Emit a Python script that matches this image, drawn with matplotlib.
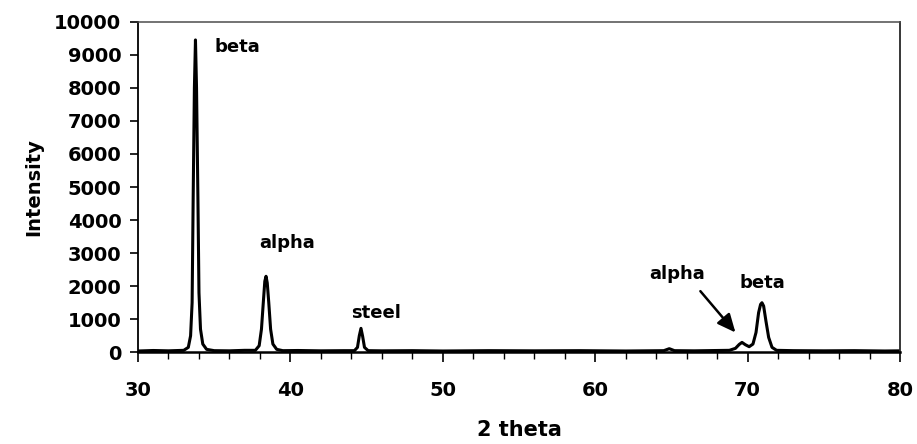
import numpy as np
import matplotlib.pyplot as plt

two_theta = [
    30.0, 31.0, 32.0, 33.0, 33.3, 33.45, 33.55, 33.62, 33.7, 33.77, 33.84,
    33.93, 34.0, 34.1, 34.25, 34.5, 35.0, 36.0, 37.0, 37.7, 37.95, 38.1,
    38.22, 38.32, 38.4, 38.48, 38.58, 38.7, 38.85, 39.1, 39.5, 40.5, 42.0,
    43.5, 44.2, 44.4, 44.52, 44.63, 44.74, 44.86, 45.1, 46.0, 48.0, 50.0,
    53.0, 56.0, 59.0, 62.0, 64.5, 64.86, 65.2, 66.5, 68.0, 68.8, 69.2,
    69.45, 69.63, 69.85, 70.1, 70.35, 70.55, 70.72, 70.85, 70.94, 71.05,
    71.2, 71.38, 71.6, 71.9, 73.0, 75.0, 77.0, 79.0, 80.0,
]
intensity = [
    40, 55, 45, 60, 150, 500, 1500, 4700, 8000, 9450, 8000,
    4700, 1800, 700, 250, 90, 50, 45, 60, 60, 200, 700,
    1500, 2150, 2300, 2100, 1500, 700, 250, 90, 50, 55, 45,
    50, 50, 150, 500, 725, 480, 150, 50, 45, 50, 40,
    50, 45, 50, 40, 50, 110, 50, 45, 55, 60, 120,
    240, 300, 230, 170, 250, 600, 1200, 1450, 1500, 1400,
    950, 450, 150, 60, 50, 45, 50, 40, 45,
]

# peak labels: text, x, y
labels = ["beta", "alpha", "steel", "alpha", "beta"]
label_x = [36.5, 39.8, 45.6, 65.4, 71.0]
label_y = [9250, 3300, 1200, 2380, 2110]

plt.rcParams['font.family'] = ['DejaVu Sans']

fig = plt.figure(figsize=(9.17, 4.44), dpi=100)
ax = fig.add_axes([0.1505, 0.2065, 0.8310, 0.7445])

ax.plot(two_theta, intensity, color='black', lw=2.2, solid_joinstyle='round')

for txt, lx, ly in zip(labels, label_x, label_y):
    ax.text(lx, ly, txt, ha='center', va='center', fontsize=13,
            fontweight='bold')

# arrow pointing at the small alpha reflection
ax.annotate("", xy=(69.2, 600), xytext=(66.9, 1850),
            arrowprops=dict(arrowstyle='-|>,head_length=1.1,head_width=0.5',
                            color='black', lw=1.8, shrinkA=0, shrinkB=0))

ax.set_xlim(30, 80)
ax.set_ylim(0, 10000)
ax.set_xticks(np.arange(30, 81, 10))
ax.set_xticks(np.arange(30, 81, 2), minor=True)
ax.set_yticks(np.arange(0, 10001, 1000))

ax.tick_params(axis='x', which='major', direction='out', length=7, width=1.2,
               pad=14, labelsize=14)
ax.tick_params(axis='x', which='minor', direction='out', length=5, width=1.0)
ax.tick_params(axis='y', direction='out', length=6, width=1.2, pad=6,
               labelsize=14)
for lab in ax.get_xticklabels() + ax.get_yticklabels():
    lab.set_fontweight('bold')

ax.spines['left'].set_linewidth(1.3)
ax.spines['bottom'].set_linewidth(1.8)
ax.spines['top'].set_color('0.3')
ax.spines['top'].set_linestyle((0, (2, 1)))
ax.spines['top'].set_linewidth(1.1)
ax.spines['right'].set_color('0.15')
ax.spines['right'].set_linewidth(1.3)

ax.set_xlabel("2 theta", fontsize=15, fontweight='bold', labelpad=14)
ax.set_ylabel("Intensity", fontsize=14, fontweight='bold', labelpad=8)

fig.savefig("out.png", dpi=100, facecolor='white')
